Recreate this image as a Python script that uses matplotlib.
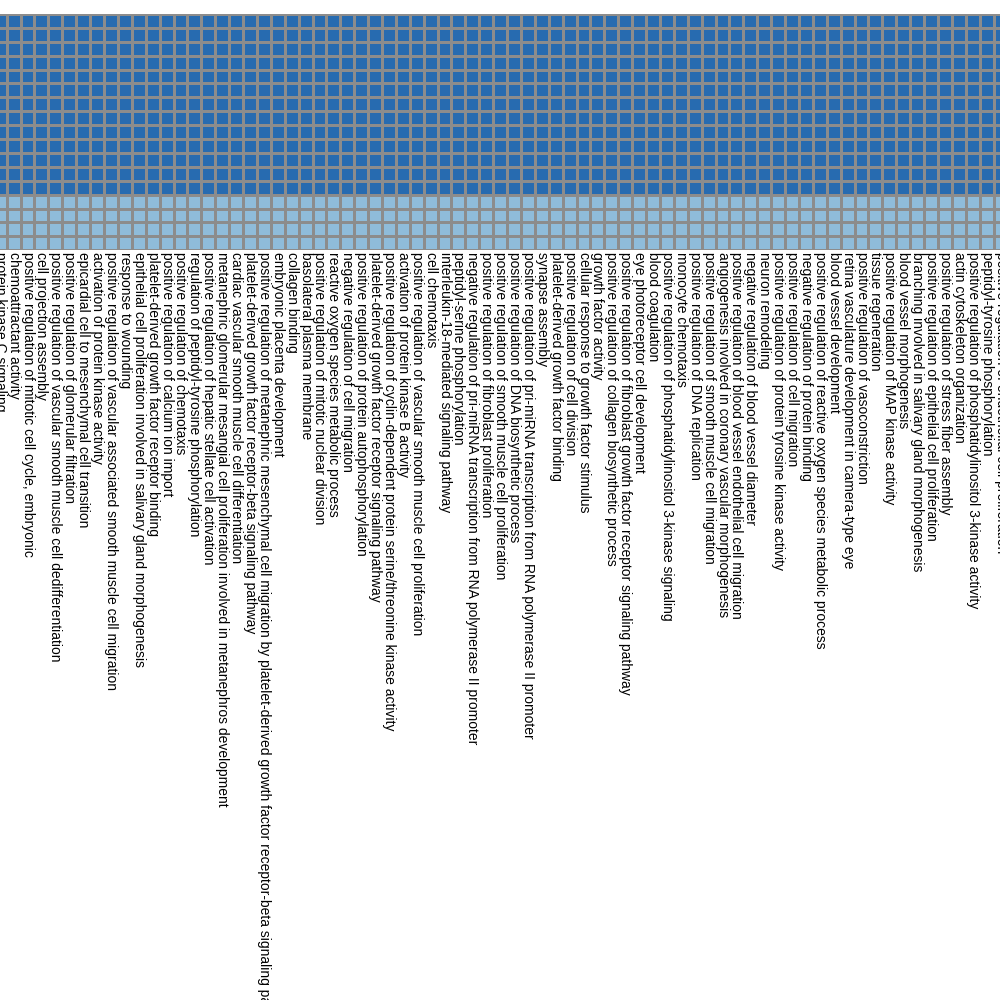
import numpy as np
import matplotlib
matplotlib.use('Agg')
import matplotlib.pyplot as plt
from matplotlib.colors import ListedColormap

# ── Data ─────────────────────────────────────────────────────────
terms = [
    'protein kinase C signaling',
    'chemoattractant activity',
    'positive regulation of mitotic cell cycle, embryonic',
    'cell projection assembly',
    'positive regulation of vascular smooth muscle cell dedifferentiation',
    'positive regulation of glomerular filtration',
    'epicardial cell to mesenchymal cell transition',
    'activation of protein kinase activity',
    'positive regulation of vascular associated smooth muscle cell migration',
    'response to wounding',
    'epithelial cell proliferation involved in salivary gland morphogenesis',
    'platelet-derived growth factor receptor binding',
    'positive regulation of calcium ion import',
    'positive regulation of chemotaxis',
    'regulation of peptidyl-tyrosine phosphorylation',
    'positive regulation of hepatic stellate cell activation',
    'metanephric glomerular mesangial cell proliferation involved in metanephros development',
    'cardiac vascular smooth muscle cell differentiation',
    'platelet-derived growth factor receptor-beta signaling pathway',
    'positive regulation of metanephric mesenchymal cell migration by platelet-derived growth factor receptor-beta signaling pathway',
    'embryonic placenta development',
    'collagen binding',
    'basolateral plasma membrane',
    'positive regulation of mitotic nuclear division',
    'reactive oxygen species metabolic process',
    'negative regulation of cell migration',
    'positive regulation of protein autophosphorylation',
    'platelet-derived growth factor receptor signaling pathway',
    'positive regulation of cyclin-dependent protein serine/threonine kinase activity',
    'activation of protein kinase B activity',
    'positive regulation of vascular smooth muscle cell proliferation',
    'cell chemotaxis',
    'interleukin-18-mediated signaling pathway',
    'peptidyl-serine phosphorylation',
    'negative regulation of pri-miRNA transcription from RNA polymerase II promoter',
    'positive regulation of fibroblast proliferation',
    'positive regulation of smooth muscle cell proliferation',
    'positive regulation of DNA biosynthetic process',
    'positive regulation of pri-miRNA transcription from RNA polymerase II promoter',
    'synapse assembly',
    'platelet-derived growth factor binding',
    'positive regulation of cell division',
    'cellular response to growth factor stimulus',
    'growth factor activity',
    'positive regulation of collagen biosynthetic process',
    'positive regulation of fibroblast growth factor receptor signaling pathway',
    'eye photoreceptor cell development',
    'blood coagulation',
    'positive regulation of phosphatidylinositol 3-kinase signaling',
    'monocyte chemotaxis',
    'positive regulation of DNA replication',
    'positive regulation of smooth muscle cell migration',
    'angiogenesis involved in coronary vascular morphogenesis',
    'positive regulation of blood vessel endothelial cell migration',
    'negative regulation of blood vessel diameter',
    'neuron remodeling',
    'positive regulation of protein tyrosine kinase activity',
    'positive regulation of cell migration',
    'negative regulation of protein binding',
    'positive regulation of reactive oxygen species metabolic process',
    'blood vessel development',
    'retina vasculature development in camera-type eye',
    'positive regulation of vasoconstriction',
    'tissue regeneration',
    'positive regulation of MAP kinase activity',
    'blood vessel morphogenesis',
    'branching involved in salivary gland morphogenesis',
    'positive regulation of epithelial cell proliferation',
    'positive regulation of stress fiber assembly',
    'actin cytoskeleton organization',
    'positive regulation of phosphatidylinositol 3-kinase activity',
    'peptidyl-tyrosine phosphorylation',
    'positive regulation of endothelial cell proliferation',
]

# one value per row (17 rows), identical across every term column
row_values = [1, 1, 1, 1, 1, 1, 1, 1, 1, 1, 1, 1, 1, 0, 0, 0, 0]

values = np.repeat(np.array(row_values, float)[:, None], len(terms), axis=1)

# ── Styling ──────────────────────────────────────────────────────
plt.rcParams['font.family'] = ['Liberation Sans', 'DejaVu Sans']

COLOR_LOW  = '#8fbcda'
COLOR_HIGH = '#276bb0'
COLOR_GRID = '#8c8c8c'

W, H = 1000, 1000
fig = plt.figure(figsize=(10, 10), dpi=100)

cell = 13.9
n_col, n_row = len(terms), len(row_values)
left_px, top_px = -7.2, 14
ax = fig.add_axes([left_px / W, 1 - (top_px + n_row * cell) / H,
                   n_col * cell / W, n_row * cell / H])

ax.pcolormesh(values, cmap=ListedColormap([COLOR_LOW, COLOR_HIGH]),
              vmin=0, vmax=1, edgecolors=COLOR_GRID, linewidth=0.8)
ax.set_xlim(0, n_col)
ax.set_ylim(n_row, 0)

ax.set_xticks(np.arange(n_col) + 0.5)
ax.set_xticklabels(terms, rotation=270, ha='center', va='top',
                   fontsize=10, color='black')
ax.set_yticks([])
ax.tick_params(axis='x', length=0, pad=1.5)
for s in ax.spines.values():
    s.set_visible(False)

fig.savefig('out.png', dpi=100, facecolor='white')
